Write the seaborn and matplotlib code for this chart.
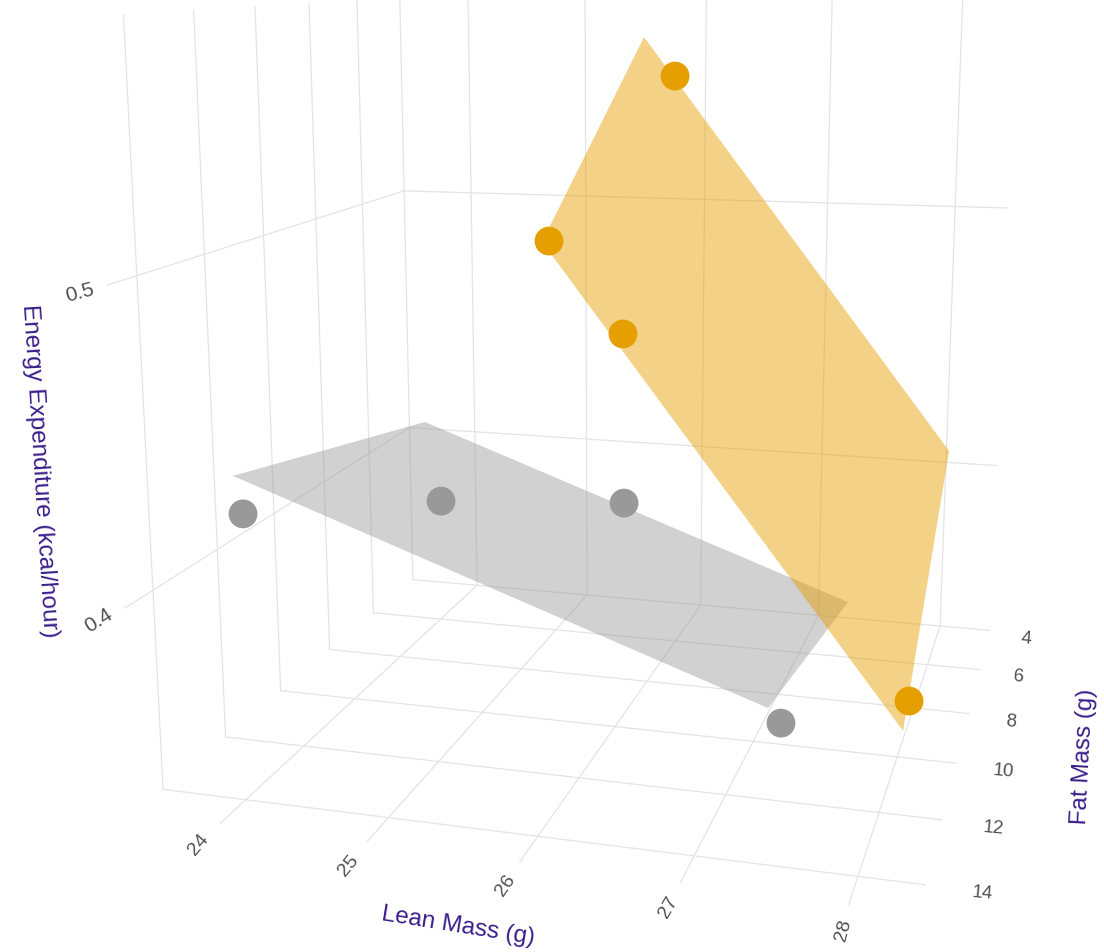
import numpy as np
import pandas as pd
import matplotlib.pyplot as plt
import seaborn as sns

# Dados dos pontos (massa magra, massa gorda, gasto de energia)
gray_lean = [23.950, 24.367, 25.574, 27.438]
gray_fat = [13.5, 8.0, 6.0, 13.0]
gray_energy = [0.4238, 0.3958, 0.3871, 0.3683]

orange_lean = [25.815, 25.391, 25.810, 27.998]
orange_fat = [4.6, 9.0, 8.0, 8.6]
orange_energy = [0.5487, 0.4982, 0.4625, 0.3407]

# Planos ajustados, um por grupo
gray_plane_lean = [24.005, 24.005, 27.440, 27.440]
gray_plane_fat = [14.0, 6.614, 7.005, 14.0]
gray_plane_energy = [0.4392, 0.4178, 0.3625, 0.3817]

orange_plane_lean = [25.368, 25.368, 27.993, 27.993]
orange_plane_fat = [9.2, 2.953, 3.341, 9.2]
orange_plane_energy = [0.4985, 0.5618, 0.4009, 0.3350]

lean_ticks = [24, 25, 26, 27, 28]
fat_ticks = [4, 6, 8, 10, 12, 14]
energy_ticks = [0.4, 0.5]

# Limites da cena
lean_range = (23.4, 28.4)
fat_range = (4.0, 14.8)
energy_range = (0.333, 0.578)

# Camera da cena 3D, em pixels da figura
CAMERA = np.array([
    [63.49274, -18.57696, -97.08373, -1115.096],
    [-0.08509072, 0.7728833, -1518.652, 875.8976],
    [-0.01043096, -0.01599343, -0.1575783, 1.0],
])


def project(lean, fat, energy):
    pts = np.column_stack([lean, fat, energy, np.ones(len(lean))])
    h = pts @ CAMERA.T
    return h[:, 0] / h[:, 2], h[:, 1] / h[:, 2]


def grid_line(ax, start, end):
    xs, ys = project(*[np.array(v, dtype=float) for v in zip(start, end)])
    ax.plot(xs, ys, color='#e4e4e4', linewidth=0.9, zorder=1)


sns.set_theme(style='white')
plt.rcParams['font.family'] = ['Liberation Sans', 'DejaVu Sans']

fig = plt.figure(figsize=(11.04, 9.53), dpi=100)
ax = fig.add_axes([0, 0, 1, 1])
ax.set_xlim(0, 1104)
ax.set_ylim(953, 0)
ax.axis('off')

l0, l1 = lean_range
f0, f1 = fat_range
z0, z1 = energy_range

# Grade do chao e das duas paredes
for lean in lean_ticks:
    grid_line(ax, (lean, f0, z0), (lean, f1, z0))
    grid_line(ax, (lean, f0, z0), (lean, f0, z1))
for fat in fat_ticks:
    grid_line(ax, (l0, fat, z0), (l1, fat, z0))
    grid_line(ax, (l0, fat, z0), (l0, fat, z1))
for energy in energy_ticks:
    grid_line(ax, (l0, f0, energy), (l1, f0, energy))
    grid_line(ax, (l0, f0, energy), (l0, f1, energy))

# Planos
xs, ys = project(np.array(gray_plane_lean), np.array(gray_plane_fat), np.array(gray_plane_energy))
ax.fill(xs, ys, color='#999999', alpha=0.45, linewidth=0, zorder=2)
xs, ys = project(np.array(orange_plane_lean), np.array(orange_plane_fat), np.array(orange_plane_energy))
ax.fill(xs, ys, color='#E69F00', alpha=0.47, linewidth=0, zorder=3)

# Pontos
groups = []
for name, lean, fat, energy in [('gray', gray_lean, gray_fat, gray_energy),
                                ('orange', orange_lean, orange_fat, orange_energy)]:
    xs, ys = project(np.array(lean), np.array(fat), np.array(energy))
    groups.append(pd.DataFrame({'x': xs, 'y': ys, 'group': name}))
df = pd.concat(groups)
sns.scatterplot(data=df, x='x', y='y', hue='group', palette={'gray': '#999999', 'orange': '#E69F00'},
                s=430, linewidth=0, legend=False, zorder=4, ax=ax)
ax.axis('off')

# Rotulos dos eixos
tick_color = '#505050'
title_color = '#3a1d8a'
lean_pos = [(199, 845, 50), (349, 866, 50), (506, 886, 55), (669, 907, 60), (843, 930, 75)]
for tick, (x, y, rot) in zip(lean_ticks, lean_pos):
    ax.text(x, y, str(tick), rotation=rot, ha='center', va='center', fontsize=14,
            color=tick_color, rotation_mode='anchor')
fat_pos = [(1026, 639), (1019, 677), (1011, 722), (1003, 771), (993, 828), (982, 893)]
for tick, (x, y) in zip(fat_ticks, fat_pos):
    ax.text(x, y, str(tick), rotation=-5, ha='center', va='center', fontsize=13.5,
            color=tick_color, rotation_mode='anchor')
energy_pos = [(99, 621, 32), (80, 293, 15)]
for tick, (x, y, rot) in zip(energy_ticks, energy_pos):
    ax.text(x, y, str(tick), rotation=rot, ha='center', va='center', fontsize=15,
            color=tick_color, rotation_mode='anchor')

ax.text(458, 926, 'Lean Mass (g)', rotation=-9, ha='center', va='center', fontsize=17.5,
        color=title_color, rotation_mode='anchor')
ax.text(1084, 757, 'Fat Mass (g)', rotation=87, ha='center', va='center', fontsize=17.5,
        color=title_color, rotation_mode='anchor')
ax.text(39, 471, 'Energy Expenditure (kcal/hour)', rotation=-86.4, ha='center', va='center',
        fontsize=17.5, color=title_color, rotation_mode='anchor')

fig.savefig('out.png')
